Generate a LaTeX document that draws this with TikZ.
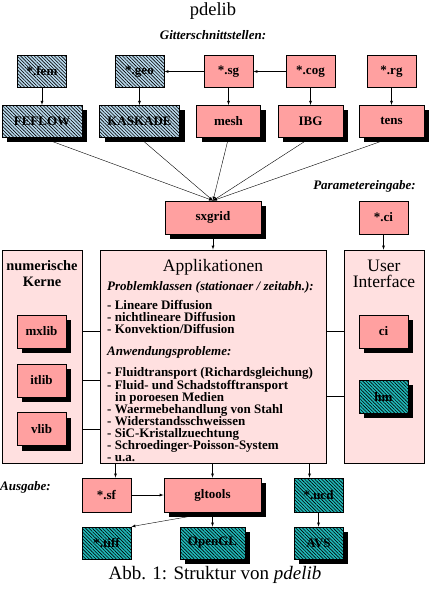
\documentclass[tikz,border=0pt]{standalone}
\usepackage{fontspec}
\setmainfont{Liberation Serif}
\usepackage{xcolor}
\usepackage{tikz}
\usetikzlibrary{shapes,arrows,positioning,patterns,patterns.meta,shadows}
\definecolor{boxPink}{RGB}{255,160,160}
\definecolor{areaPink}{RGB}{255,224,224}
\definecolor{gridBlue}{RGB}{184,216,236}
\definecolor{visTeal}{RGB}{32,184,184}

\begin{document}
\begin{tikzpicture}[x=1pt, y=-1pt, thin, >=latex, every node/.style={font=\fontsize{13}{13}\selectfont\bfseries}]
    \tikzstyle{file} = [rectangle, draw, line width=0.8pt, fill=boxPink, minimum width=49pt, minimum height=32pt, inner sep=0pt]
    \tikzstyle{prog} = [file, drop shadow={shadow xshift=5pt, shadow yshift=-5pt, fill=black, opacity=1}]
    \tikzstyle{gridfile} = [fill=gridBlue, postaction={pattern={Lines[angle=-45, distance=2.4pt, line width=0.6pt]}, pattern color=black}]
    \tikzstyle{visfile} = [fill=visTeal, postaction={pattern={Lines[angle=-45, distance=2.4pt, line width=0.6pt]}, pattern color=black}]
    \tikzstyle{bigbox} = [rectangle, draw, line width=0.8pt, fill=areaPink, minimum height=213pt, inner sep=0pt]
    \tikzstyle{note} = [font=\fontsize{13}{13}\selectfont\bfseries\itshape, inner sep=0pt]
    \tikzstyle{line} = [draw, ->]

    \useasboundingbox (0,0) rectangle (429,592);

    \node [font=\fontsize{18.5}{18.5}\selectfont] (title) at (213,11) {pdelib};
    \node [note] (gitter) at (213,35) {Gitterschnittstellen:};

    % Gitterformate
    \node [file, gridfile] (fem) at (42,71.5) {*.fem};
    \node [file, gridfile] (geo) at (139.5,71.5) {*.geo};
    \node [file] (sg) at (228.5,71.5) {*.sg};
    \node [file] (cog) at (310.5,71.5) {*.cog};
    \node [file] (rg) at (391.5,71.5) {*.rg};

    \node [prog, gridfile, minimum width=80pt, below=17pt of fem] (feflow) {FEFLOW};
    \node [prog, gridfile, minimum width=80pt, below=17pt of geo] (kaskade) {KASKADE};
    \node [prog, minimum width=64pt, below=17pt of sg] (mesh) {mesh};
    \node [prog, minimum width=65pt, below=17pt of cog] (ibg) {IBG};
    \node [prog, minimum width=65pt, below=17pt of rg] (tens) {tens};

    \node [prog, minimum width=96pt, minimum height=33pt] (sxgrid) at (213,217.5) {sxgrid};
    \node [note, anchor=east] (param) at (416,186) {Parametereingabe:};
    \node [file, minimum height=33pt] (cifile) at (383.5,217.5) {*.ci};

    % Kerne, Applikationen, Interface
    \node [bigbox, minimum width=80pt] (kerne) at (42,356.5) {};
    \node [bigbox, minimum width=226pt] (app) at (213,356.5) {};
    \node [bigbox, minimum width=80pt] (ui) at (384,356.5) {};

    \node [font=\fontsize{14.4}{16}\selectfont\bfseries, align=center] (kernetitle) at (42,274) {numerische\\Kerne};
    \node [font=\fontsize{17.5}{17.5}\selectfont] (apptitle) at (213,267) {Applikationen};
    \node [font=\fontsize{17.5}{16}\selectfont, align=center] (uititle) at (384,274) {User\\Interface};

    \node [anchor=north west, align=left, inner sep=0pt, font=\fontsize{13}{12}\selectfont\bfseries] (apptext) at (107,281) {%
        \textit{Problemklassen (stationaer / zeitabh.):}\\[7pt]
        - Lineare Diffusion\\
        - nichtlineare Diffusion\\
        - Konvektion/Diffusion\\[10pt]
        \textit{Anwendungsprobleme:}\\[9pt]
        - Fluidtransport (Richardsgleichung)\\
        - Fluid- und Schadstofftransport\\
        \hspace*{8pt}in poroesen Medien\\
        - Waermebehandlung von Stahl\\
        - Widerstandsschweissen\\
        - SiC-Kristallzuechtung\\
        - Schroedinger-Poisson-System\\
        - u.a.};

    \node [prog, minimum height=33pt] (mxlib) at (41.5,331.5) {mxlib};
    \node [prog, minimum height=33pt] (itlib) at (41.5,380.5) {itlib};
    \node [prog, minimum height=33pt] (vlib) at (41.5,429) {vlib};
    \node [prog, minimum height=33pt] (ci) at (383.5,331.5) {ci};
    \node [prog, visfile, minimum height=33pt] (hm) at (383.5,396.5) {hm};

    % Ausgabe
    \node [note, anchor=west] (ausgabe) at (0,487) {Ausgabe:};
    \node [file, minimum height=34pt] (sf) at (106.5,495) {*.sf};
    \node [prog, minimum width=97pt, minimum height=34pt] (gltools) at (212.5,495) {gltools};
    \node [file, visfile, minimum height=34pt] (ucd) at (318.5,495) {*.ucd};
    \node [file, visfile] (tiff) at (106.5,543) {*.tiff};
    \node [prog, visfile, minimum width=65pt] (opengl) at (212.5,543) {OpenGL};
    \node [prog, visfile] (avs) at (318.5,543) {AVS};

    \node [font=\fontsize{19}{19}\selectfont] (caption) at (215,575) {Abb. 1: Struktur von \textit{pdelib}};

    % Verbindungen
    \path [line] (fem) -- (feflow);
    \path [line] (geo) -- (kaskade);
    \path [line] (sg) -- (mesh);
    \path [line] (cog) -- (ibg);
    \path [line] (rg) -- (tens);
    \path [line] (sg) -- (geo);
    \path [line] (cog) -- (sg);
    \foreach \src in {feflow,kaskade,mesh,ibg,tens}
        \path [line] (\src.south) -- (sxgrid.north);
    \path [line] (sxgrid) -- (app);
    \path [line] (cifile.south) -- (cifile.south |- ui.north);
    \foreach \lib in {mxlib,itlib,vlib}
        \draw (kerne.east |- \lib) -- (app.west |- \lib);
    \foreach \tool in {ci,hm}
        \draw (app.east |- \tool) -- (ui.west |- \tool);
    \path [line] ([xshift=9pt]sf.north |- app.south) -- ([xshift=9pt]sf.north);
    \path [line] (app.south -| gltools.north) -- (gltools.north);
    \path [line] ([xshift=-9pt]ucd.north |- app.south) -- ([xshift=-9pt]ucd.north);
    \path [line] (sf) -- (gltools);
    \path [line] (gltools.south) -- (tiff.north east);
    \path [line] (gltools) -- (opengl);
    \path [line] (ucd) -- (avs);
\end{tikzpicture}
\end{document}
